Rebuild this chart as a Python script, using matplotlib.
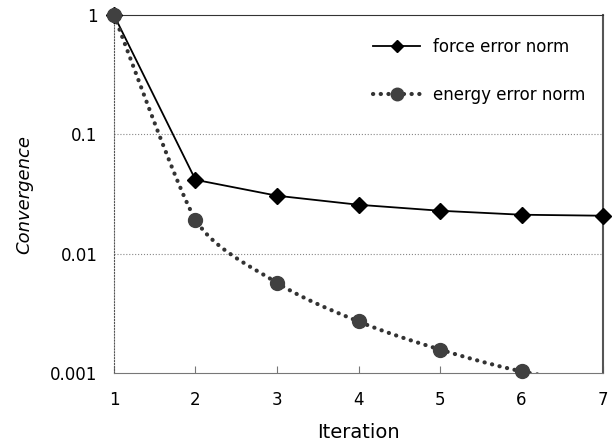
import numpy as np
import matplotlib.pyplot as plt
from matplotlib.ticker import FixedLocator, FixedFormatter, NullLocator

iterations = [1, 2, 3, 4, 5, 6, 7]
force_err = [1.0, 0.0416, 0.0306, 0.0257, 0.0229, 0.0212, 0.0208]
energy_err = [1.0, 0.0193, 0.0057, 0.0027, 0.00157, 0.00103, 0.0008]

y_ticks = [0.001, 0.01, 0.1, 1]
y_labels = ['0.001', '0.01', '0.1', '1']


def smooth(xs, ys, sx=81.5, sy=119.5, n=40):
    # spreadsheet-like smoothed line, worked out in screen-ish units (x, log y)
    P = np.column_stack([np.asarray(xs, float) * sx, np.log10(ys) * sy])
    m = len(P)
    d = np.linalg.norm(np.diff(P, axis=0), axis=1)
    tang = np.zeros_like(P)
    tang[0] = (P[1] - P[0]) / d[0]
    tang[-1] = (P[-1] - P[-2]) / d[-1]
    for i in range(1, m - 1):
        v = P[i + 1] - P[i - 1]
        tang[i] = v / np.linalg.norm(v)
    hlen = np.zeros(m)
    hlen[0], hlen[-1] = d[0] / 6, d[-1] / 6
    for i in range(1, m - 1):
        hlen[i] = 0.33 * min(d[i - 1], d[i])
    t = np.linspace(0, 1, n)[:, None]
    pts = []
    for i in range(m - 1):
        a, b = P[i], P[i + 1]
        c1 = a + tang[i] * hlen[i]
        c2 = b - tang[i + 1] * hlen[i + 1]
        pts.append((1 - t) ** 3 * a + 3 * (1 - t) ** 2 * t * c1 + 3 * (1 - t) * t ** 2 * c2 + t ** 3 * b)
    pts = np.vstack(pts)
    return pts[:, 0] / sx, 10 ** (pts[:, 1] / sy)


plt.rcParams['font.family'] = ['DejaVu Sans']

fig = plt.figure(figsize=(6.16, 4.45), dpi=100)
ax = fig.add_axes([0.185, 0.162, 0.794, 0.804])

ax.set_yscale('log')
ax.set_ylim(0.001, 1)
ax.set_xlim(1, 7)

for y in [0.01, 0.1]:
    ax.axhline(y, color='#888888', lw=0.8, ls=':', zorder=1)

dots = (0, (0.05, 1.8))

ax.plot(iterations, force_err, color='black', lw=1.3, zorder=3)
ax.plot(iterations, force_err, ls='none', marker='D', ms=8, mfc='black',
        mec='black', zorder=3, clip_on=False)

sx, sy = smooth(iterations, energy_err)
ax.plot(sx, sy, color='#333333', lw=3.0, ls=dots, dash_capstyle='round', zorder=4)
ax.plot(iterations[:-1], energy_err[:-1], ls='none', marker='o', ms=10, mfc='#404040',
        mec='#404040', zorder=5, clip_on=False)

ax.plot([], [], color='black', lw=1.3, marker='D', ms=6, label='force error norm')
ax.plot([], [], color='#333333', lw=3.0, ls=dots, dash_capstyle='round',
        marker='o', ms=9, mfc='#404040', mec='#404040', label='energy error norm')

ax.yaxis.set_major_locator(FixedLocator(y_ticks))
ax.yaxis.set_major_formatter(FixedFormatter(y_labels))
ax.yaxis.set_minor_locator(NullLocator())
ax.tick_params(axis='y', length=0, pad=12, labelsize=12)
ax.set_xticks(iterations)
ax.tick_params(axis='x', direction='in', length=5, color='#777777', pad=13, labelsize=12)

ax.spines['left'].set_linestyle(':')
ax.spines['left'].set_color('#555555')
ax.spines['bottom'].set_color('#777777')
ax.spines['right'].set_color('#555555')
ax.spines['right'].set_linewidth(1.5)
ax.spines['top'].set_color('#333333')

ax.set_xlabel('Iteration', fontsize=14, labelpad=10)
ax.set_ylabel('Convergence', fontsize=13, style='italic', labelpad=12)

ax.legend(loc='upper right', frameon=False, fontsize=12, handlelength=2.8,
          labelspacing=1.8, bbox_to_anchor=(0.995, 0.978))

fig.savefig('out.png', dpi=100)
